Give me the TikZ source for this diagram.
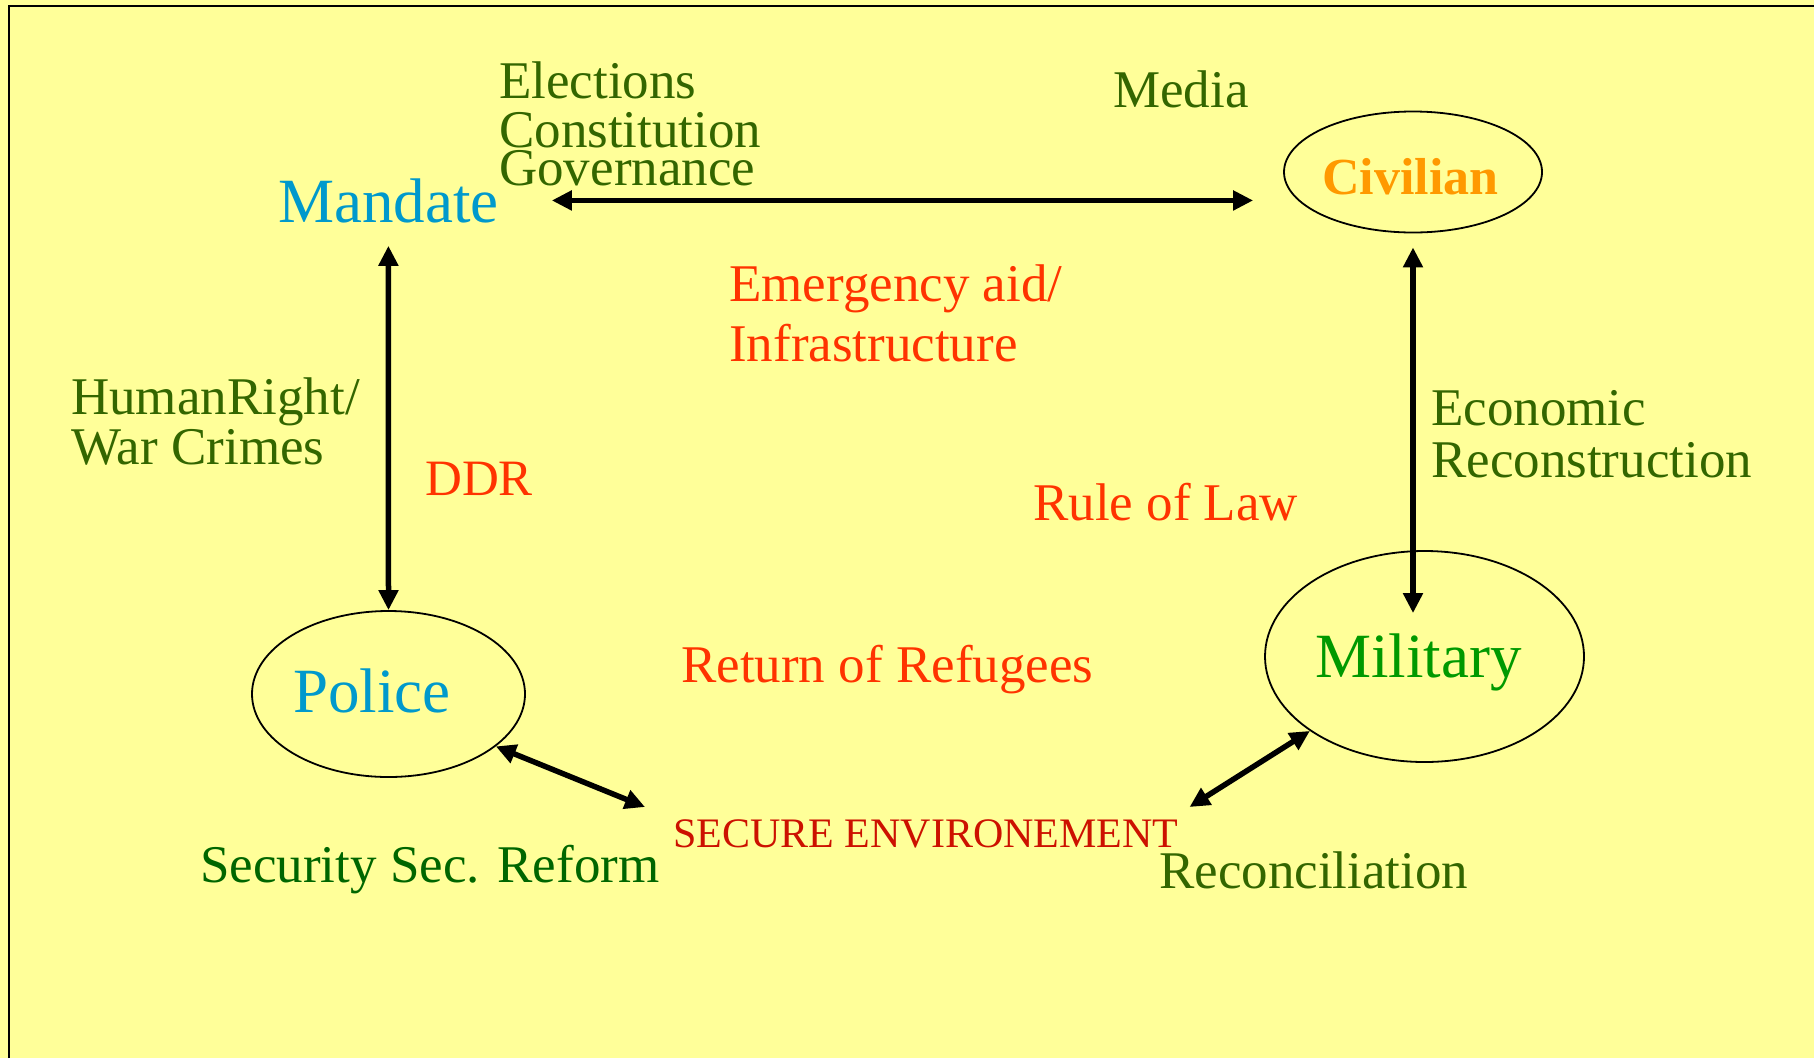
\documentclass[tikz,border=0pt]{standalone}
\usepackage{fontspec}
\setmainfont{Liberation Serif}
\usetikzlibrary{arrows.meta,shapes.geometric}
\definecolor{bg}{HTML}{FFFF99}
\definecolor{olivetxt}{HTML}{336600}
\definecolor{darkgreentxt}{HTML}{006600}
\definecolor{redtxt}{HTML}{FF3300}
\definecolor{securetxt}{HTML}{CC1100}
\definecolor{bluetxt}{HTML}{0099CC}
\definecolor{militarytxt}{HTML}{009900}
\definecolor{civiliantxt}{HTML}{FF9900}
\begin{document}
\begin{tikzpicture}[x=1pt,y=-1pt,
  lbl/.style={inner sep=0pt, anchor=base west, font=\fontsize{53}{53}\selectfont},
  big/.style={lbl, font=\fontsize{63}{63}\selectfont},
  oval/.style={ellipse, draw, line width=1.8pt, inner sep=0pt},
  dbl/.style={{Triangle[length=20pt,width=19pt]}-{Triangle[length=20pt,width=19pt]}, line width=5.5pt}]
\fill[bg] (0,0) rectangle (1814,1058);
\useasboundingbox (0,0) rectangle (1814,1058);
\draw[line width=2pt] (9,1058) -- (9,6) -- (1814,6);

% top-left
\node[big, text=bluetxt] (mandate) at (278,222) {Mandate};
\node[lbl, text=olivetxt] (elec) at (499,98) {Elections};
\node[lbl, text=olivetxt] (const) at (499,147) {Constitution};
\node[lbl, text=olivetxt] (gov) at (499,185) {Governance};
\node[lbl, text=olivetxt] (media) at (1113,107) {Media};

% civilian
\node[oval, minimum width=258pt, minimum height=121pt] (civ) at (1413,172) {};
\node[lbl, text=civiliantxt, font=\fontsize{52}{52}\selectfont\bfseries] (civT) at (1322,194) {Civilian};

% middle labels
\node[lbl, text=redtxt] (emerg) at (729,301) {Emergency aid/};
\node[lbl, text=redtxt] (infra) at (729,361) {Infrastructure};
\node[lbl, text=olivetxt] (human) at (71,414) {HumanRight/};
\node[lbl, text=olivetxt] (war) at (71,464) {War Crimes};
\node[lbl, text=redtxt, font=\fontsize{51}{51}\selectfont] (ddr) at (425,495) {DDR};
\node[lbl, text=redtxt] (rule) at (1033,520) {Rule of Law};
\node[lbl, text=olivetxt] (econ) at (1431,425) {Economic};
\node[lbl, text=olivetxt] (recon) at (1431,477) {Reconstruction};
\node[lbl, text=redtxt] (ret) at (681,682) {Return of Refugees};

% police and military
\node[oval, minimum width=273pt, minimum height=166pt] (police) at (388.5,694) {};
\node[big, text=bluetxt] (policeT) at (293,712) {Police};
\node[oval, minimum width=319pt, minimum height=211pt] (mil) at (1424.5,656.5) {};
\node[big, text=militarytxt] (milT) at (1315,677) {Military};

% bottom
\node[lbl, text=securetxt, font=\fontsize{42}{42}\selectfont] (secure) at (673,847) {SECURE ENVIRONEMENT};
\node[lbl, text=darkgreentxt] (ssr) at (200,882) {Security Sec. Reform};
\node[lbl, text=olivetxt] (recT) at (1159,888) {Reconciliation};

% connectors
\draw[dbl] ([xshift=53pt]mandate.east) -- ([xshift=-30pt]mandate.east -| civ.west);
\draw[dbl, shorten <=23pt] (mandate.south) -- (police.north);
\draw[dbl, shorten <=14pt] (civ.south) -- ([yshift=-63pt]civ.south |- mil.north);
\draw[dbl] (police.-26.5) -- ([xshift=-28pt,yshift=12pt]secure.north west);
\draw[dbl] (mil.213.5) -- ([xshift=11pt,yshift=12pt]secure.north east);
\end{tikzpicture}
\end{document}
